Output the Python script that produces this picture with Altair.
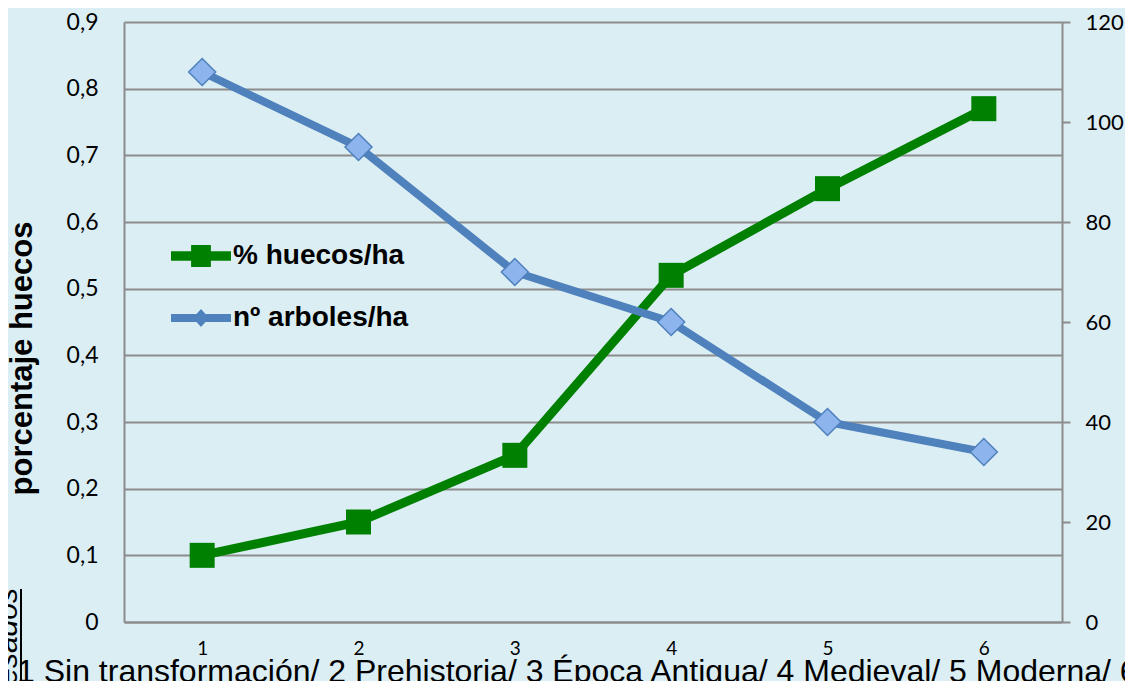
import altair as alt
import pandas as pd

# ---- data ----
categorias = [1, 2, 3, 4, 5, 6]
huecos = [0.10, 0.15, 0.25, 0.52, 0.65, 0.77]
arboles = [110, 95, 70, 60, 40, 34]
serie_nombres = ["% huecos/ha", "nº arboles/ha"]
ticks_izq = [0, 0.1, 0.2, 0.3, 0.4, 0.5, 0.6, 0.7, 0.8, 0.9]
ticks_der = [0, 20, 40, 60, 80, 100, 120]
titulo_y = "porcentaje huecos"
texto_inferior = "1 Sin transformación/ 2 Prehistoria/ 3 Época Antigua/ 4 Medieval/ 5 Moderna/ 6 Contemporánea"
texto_lateral = "pesados"

GREEN = "#008000"
BLUE = "#4F81BD"
DIAMOND_FILL = "#8DB4EC"
GRAY = "#8C8C8C"
BG = "#DBEEF4"

df = pd.DataFrame({"cat": categorias, "huecos": huecos, "arboles": arboles})
df_leg = pd.DataFrame({"serie": serie_nombres})

x_enc = alt.X(
    "cat:O",
    scale=alt.Scale(type="point", padding=0.5),
    axis=alt.Axis(
        title=None, labelAngle=0, ticks=False, tickSize=0, grid=False,
        domainColor=GRAY, domainWidth=2, labelFont="Lato", labelFontSize=19,
        labelPadding=17, labelColor="black",
    ),
)

y_left = alt.Y(
    "huecos:Q",
    scale=alt.Scale(domain=[0, 0.9], nice=False),
    axis=alt.Axis(
        orient="left", values=ticks_izq,
        labelExpr="datum.value == 0 ? '0' : replace(format(datum.value, '.1f'), '.', ',')",
        ticks=False, tickSize=0, grid=True, gridColor=GRAY, gridWidth=2,
        domainColor=GRAY, domainWidth=2, labelFont="Lato", labelFontSize=23,
        labelColor="black", labelPadding=26,
        title=titulo_y, titleFont="Liberation Sans", titleFontWeight="bold",
        titleFontSize=31, titleColor="black", titleX=-102, titleY=336,
        titleAngle=270, titleBaseline="middle", titleAlign="center",
    ),
)

y_right = alt.Y(
    "arboles:Q",
    scale=alt.Scale(domain=[0, 120], nice=False),
    axis=alt.Axis(
        orient="right", values=ticks_der, grid=False, ticks=True, tickSize=8,
        tickColor=GRAY, tickWidth=2, domainColor=GRAY, domainWidth=2,
        labelFont="Lato", labelFontSize=22, labelColor="black", labelPadding=15,
        title=None,
    ),
)

base = alt.Chart(df)

green = alt.layer(
    base.mark_line(color=GREEN, strokeWidth=9).encode(x=x_enc, y=y_left),
    base.mark_point(shape="square", filled=True, size=625, color=GREEN, opacity=1).encode(x=x_enc, y=y_left),
)

blue = alt.layer(
    base.mark_line(color=BLUE, strokeWidth=8).encode(x=x_enc, y=y_right),
    base.mark_point(shape="diamond", filled=True, fill=DIAMOND_FILL, stroke=BLUE,
                    strokeWidth=1.5, size=729, opacity=1).encode(x=x_enc, y=y_right),
)

path_g = "M-1,-0.16L1,-0.16L1,0.16L-1,0.16Z M-0.33,-0.37L0.33,-0.37L0.33,0.37L-0.33,0.37Z"
path_b = "M-1,-0.13L1,-0.13L1,0.13L-1,0.13Z M0,-0.3L0.27,0L0,0.3L-0.27,0Z"

leg_props = dict(
    orient="none", legendX=47, legendY=204, padding=0, rowPadding=18,
    labelFont="Liberation Sans", labelFontWeight="bold", labelFontSize=28,
    labelColor="black", labelOffset=2, labelLimit=500, symbolStrokeWidth=0,
    symbolSize=3600, symbolOpacity=1, title=None,
)

legend_layer = alt.Chart(df_leg).transform_filter("false").mark_point(filled=True).encode(
    color=alt.Color("serie:N", scale=alt.Scale(domain=serie_nombres, range=[GREEN, BLUE]),
                    legend=alt.Legend(**leg_props)),
    shape=alt.Shape("serie:N", scale=alt.Scale(domain=serie_nombres, range=[path_g, path_b]),
                    legend=alt.Legend(**leg_props)),
)

txt_df = pd.DataFrame({"t": [texto_inferior]})
bottom_text = alt.Chart(txt_df).mark_text(
    align="left", baseline="alphabetic", font="Liberation Sans", fontSize=32, color="black"
).encode(text="t:N", x=alt.value(-107), y=alt.value(660))

side_df = pd.DataFrame({"t": [texto_lateral]})
side_text = alt.Chart(side_df).mark_text(
    align="right", baseline="alphabetic", angle=270, font="Liberation Sans",
    fontStyle="italic", fontSize=30, color="black"
).encode(text="t:N", x=alt.value(-107), y=alt.value(566))

underline = alt.Chart(side_df).mark_rule(color="black", strokeWidth=2).encode(
    x=alt.value(-103), y=alt.value(567), y2=alt.value(690)
)

chart = alt.layer(green, blue, legend_layer, bottom_text, side_text, underline).resolve_scale(
    y="independent"
).properties(
    width=938, height=600,
    padding={"left": 116, "top": 14, "right": 63, "bottom": 59},
    autosize=alt.AutoSizeParams(type="none"),
).configure(background=BG).configure_view(stroke=None)

chart.save("out.html", embed_options={"renderer": "svg", "actions": False})
